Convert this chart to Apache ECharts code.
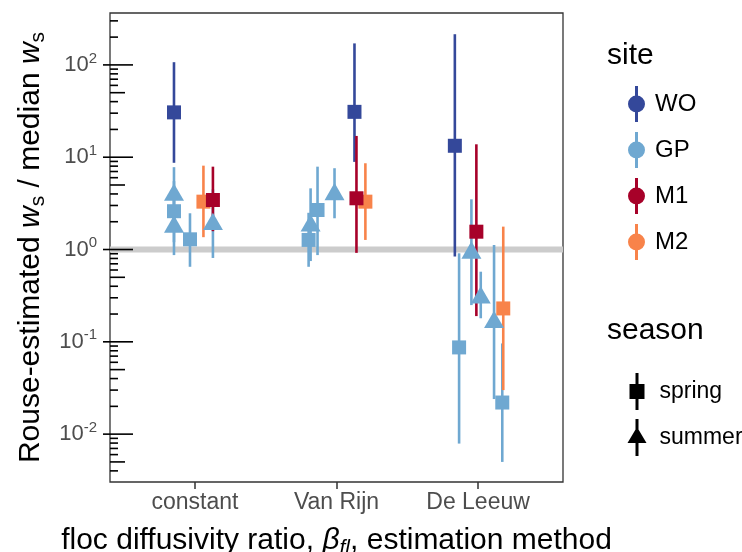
<!DOCTYPE html>
<html>
<head>
<meta charset="utf-8">
<script src="https://cdn.jsdelivr.net/npm/echarts@6/dist/echarts.min.js"></script>
<style>
  html, body { margin: 0; padding: 0; background: #ffffff; }
  #chart { width: 742px; height: 552px; }
</style>
</head>
<body>
<div id="chart"></div>
<script>
// Estimation methods along the x axis
const methods = ['constant', 'Van Rijn', 'De Leeuw'];
const sites = ['WO', 'GP', 'M1', 'M2'];
const seasons = ['spring', 'summer'];
const siteColors = ['#34489a', '#6fa8d1', '#a70129', '#f8834a'];

// One entry per estimate: method index, site, season, dodge offset (category units),
// median ratio and its lower / upper bounds
const estMethod = [0, 0, 0, 0, 0, 0, 0, 0,
                   1, 1, 1, 1, 1, 1, 1,
                   2, 2, 2, 2, 2, 2, 2, 2];
const estSite = ['WO', 'GP', 'GP', 'GP', 'GP', 'M2', 'M1', 'GP',
                 'GP', 'GP', 'GP', 'GP', 'WO', 'M1', 'M2',
                 'WO', 'GP', 'GP', 'M1', 'GP', 'GP', 'GP', 'M2'];
const estSeason = ['spring', 'summer', 'spring', 'summer', 'spring', 'spring', 'spring', 'summer',
                   'spring', 'summer', 'spring', 'summer', 'spring', 'spring', 'spring',
                   'spring', 'spring', 'summer', 'spring', 'summer', 'summer', 'spring', 'spring'];
const estDodge = [-0.148, -0.148, -0.148, -0.148, -0.035, 0.060, 0.127, 0.127,
                  -0.197, -0.183, -0.134, -0.014, 0.127, 0.141, 0.204,
                  -0.164, -0.134, -0.047, -0.012, 0.019, 0.113, 0.171, 0.178];
const estRatio = [30.6, 3.9, 2.6, 1.76, 1.29, 3.3, 3.44, 1.88,
                  1.27, 1.81, 2.68, 3.96, 31, 3.59, 3.3,
                  13.3, 0.087, 0.92, 1.56, 0.30, 0.163, 0.022, 0.23];
const estLow = [8.7, 1.6, 1.2, 0.87, 0.65, 1.36, 1.58, 0.81,
                0.65, 0.75, 0.87, 2.18, 8.9, 0.92, 1.27,
                0.84, 0.0079, 0.25, 0.19, 0.18, 0.024, 0.005, 0.030];
const estHigh = [107, 7.8, 5.5, 4.0, 2.47, 8.1, 7.9, 4.5,
                 2.5, 4.6, 7.9, 7.6, 171, 17, 8.6,
                 215, 0.91, 3.5, 13.8, 0.575, 1.12, 0.096, 1.77];

// Axis ticks
const yTickValues = [0.01, 0.1, 1, 10, 100];
const logDecades = [-3, -2, -1, 0, 1, 2];
const logMultipliers = [1, 2, 3, 4, 5, 6, 7, 8, 9];
const referenceRatio = [1];

const X_MIN = 0.4, X_MAX = 3.6, Y_MIN = 0.00303, Y_MAX = 365;
const FONT = 'Liberation Sans, Arial, Helvetica, sans-serif';

const ICON_SITE = 'path://M7,0H10V36H7Z M0,18A8.5,8.5 0 1 1 17,18A8.5,8.5 0 1 1 0,18Z';
const ICON_SPRING = 'path://M6.5,0H9.5V37H6.5Z M0.5,11H15.5V26H0.5Z';
const ICON_SUMMER = 'path://M8,0H11V37H8Z M9.5,8L19,24L0,24Z';

function rowsFor(site) {
  const rows = [];
  for (let i = 0; i < estRatio.length; i++) {
    if (estSite[i] !== site) continue;
    rows.push([estMethod[i] + 1 + estDodge[i], estRatio[i], estLow[i], estHigh[i],
               seasons.indexOf(estSeason[i])]);
  }
  return rows;
}

function renderRange(params, api) {
  const x = api.value(0);
  const lo = api.coord([x, api.value(2)]);
  const hi = api.coord([x, api.value(3)]);
  return {
    type: 'line',
    shape: { x1: hi[0], y1: hi[1], x2: lo[0], y2: lo[1] },
    style: { stroke: api.visual('color'), lineWidth: 2.6 }
  };
}

function renderPoint(params, api) {
  const p = api.coord([api.value(0), api.value(1)]);
  const color = api.visual('color');
  if (api.value(4) === 0) {
    return { type: 'rect', shape: { x: p[0] - 7, y: p[1] - 7, width: 14, height: 14 },
             style: { fill: color } };
  }
  return { type: 'polygon',
           shape: { points: [[p[0], p[1] - 11.5], [p[0] + 10, p[1] + 5.8], [p[0] - 10, p[1] + 5.8]] },
           style: { fill: color } };
}

function renderLogTick(params, api) {
  const v = api.value(0);
  const m = api.value(1);
  const p = api.coord([X_MIN, v]);
  const len = m === 1 ? 23 : (m === 5 ? 15 : 8);
  const start = m === 1 ? p[0] - 7 : p[0];
  return { type: 'line', shape: { x1: start, y1: p[1], x2: p[0] + len, y2: p[1] },
           style: { stroke: '#000', lineWidth: 1.6 } };
}

function renderReference(params, api) {
  const a = api.coord([X_MIN, api.value(0)]);
  const b = api.coord([X_MAX, api.value(0)]);
  return { type: 'line', shape: { x1: a[0], y1: a[1], x2: b[0], y2: b[1] },
           style: { stroke: '#cccccc', lineWidth: 6 } };
}

const logTickData = [];
logDecades.forEach(function (d) {
  logMultipliers.forEach(function (m) {
    const v = m * Math.pow(10, d);
    if (v >= Y_MIN && v <= Y_MAX) logTickData.push([v, m]);
  });
});

const series = [
  { type: 'custom', name: 'ref', coordinateSystem: 'cartesian2d', z: 1, silent: true,
    renderItem: renderReference, data: referenceRatio.map(function (r) { return [r]; }) },
  { type: 'custom', name: 'logticks', coordinateSystem: 'cartesian2d', z: 5, silent: true,
    renderItem: renderLogTick, data: logTickData }
];
sites.forEach(function (s, k) {
  series.push({ type: 'custom', name: s, coordinateSystem: 'cartesian2d', z: 2,
                itemStyle: { color: siteColors[k] }, renderItem: renderRange, data: rowsFor(s) });
});
// squares of M1 sit above those of M2 where they overlap
['WO', 'GP', 'M2', 'M1'].forEach(function (s) {
  const k = sites.indexOf(s);
  series.push({ type: 'custom', name: s, coordinateSystem: 'cartesian2d', z: 3,
                itemStyle: { color: siteColors[k] }, renderItem: renderPoint, data: rowsFor(s) });
});
seasons.forEach(function (s) {
  series.push({ type: 'custom', name: s, coordinateSystem: 'cartesian2d',
                itemStyle: { color: '#000000' }, renderItem: function () { return null; }, data: [] });
});

const chart = echarts.init(document.getElementById('chart'), null, { renderer: 'canvas' });
chart.setOption({
  animation: false,
  backgroundColor: '#ffffff',
  textStyle: { fontFamily: FONT },
  grid: { left: 110, right: 179, top: 13, bottom: 70, show: true, outerBoundsMode: 'none',
          containLabel: false,
          borderColor: '#333333', borderWidth: 1.3, backgroundColor: 'transparent' },
  xAxis: {
    type: 'value', min: X_MIN, max: X_MAX,
    axisLine: { show: false }, splitLine: { show: false },
    axisTick: { show: true, customValues: [1, 2, 3], length: 7, lineStyle: { color: '#333333', width: 1.5 } },
    axisLabel: { customValues: [1, 2, 3], formatter: function (v) { return methods[Math.round(v) - 1]; },
                 fontSize: 23, color: '#4d4d4d', margin: 9, fontFamily: FONT },
    name: '{n|floc diffusivity ratio, }{i|β}{s|fl}{n|, estimation method}',
    nameLocation: 'middle', nameGap: 41,
    nameTextStyle: { rich: {
      n: { fontSize: 30, lineHeight: 36, color: '#000', fontFamily: FONT },
      i: { fontSize: 30, lineHeight: 36, color: '#000', fontStyle: 'italic', fontFamily: FONT },
      s: { fontSize: 21, lineHeight: 14, color: '#000', fontStyle: 'italic', verticalAlign: 'bottom', fontFamily: FONT }
    } }
  },
  yAxis: {
    type: 'log', logBase: 10, min: Y_MIN, max: Y_MAX,
    axisLine: { show: false }, splitLine: { show: false }, axisTick: { show: false },
    axisLabel: {
      customValues: yTickValues, margin: 13,
      formatter: function (v) { return '{b|10}{e|' + Math.round(Math.log10(v)) + '}'; },
      rich: {
        b: { fontSize: 22, lineHeight: 28, color: '#4d4d4d', verticalAlign: 'middle', fontFamily: FONT },
        e: { fontSize: 15, lineHeight: 12, color: '#4d4d4d', verticalAlign: 'top', fontFamily: FONT }
      }
    },
    name: '{n|Rouse-estimated }{i|w}{s|s}{n| / median }{i|w}{s|s}',
    nameLocation: 'middle', nameGap: 60,
    nameTextStyle: { rich: {
      n: { fontSize: 30, lineHeight: 36, color: '#000', fontFamily: FONT },
      i: { fontSize: 30, lineHeight: 36, color: '#000', fontStyle: 'italic', fontFamily: FONT },
      s: { fontSize: 21, lineHeight: 14, color: '#000', verticalAlign: 'bottom', fontFamily: FONT }
    } }
  },
  legend: [
    { orient: 'vertical', left: 623, top: 81, itemWidth: 17, itemHeight: 36, itemGap: 10,
      selectedMode: false, data: sites.map(function (s) { return { name: s, icon: ICON_SITE }; }),
      textStyle: { fontSize: 24, color: '#000', fontFamily: FONT, padding: [0, 0, 0, 5] } },
    { orient: 'vertical', left: 622.5, top: 368, itemWidth: 19, itemHeight: 37, itemGap: 9,
      selectedMode: false,
      data: [{ name: seasons[0], icon: ICON_SPRING }, { name: seasons[1], icon: ICON_SUMMER }],
      textStyle: { fontSize: 23, color: '#000', fontFamily: FONT, padding: [0, 0, 0, 8] } }
  ],
  graphic: [
    { type: 'text', left: 607, top: 41, style: { text: 'site', fontSize: 30, fill: '#000', fontFamily: FONT } },
    { type: 'text', left: 607, top: 316, style: { text: 'season', fontSize: 30, fill: '#000', fontFamily: FONT } }
  ],
  series: series
});
</script>
</body>
</html>
